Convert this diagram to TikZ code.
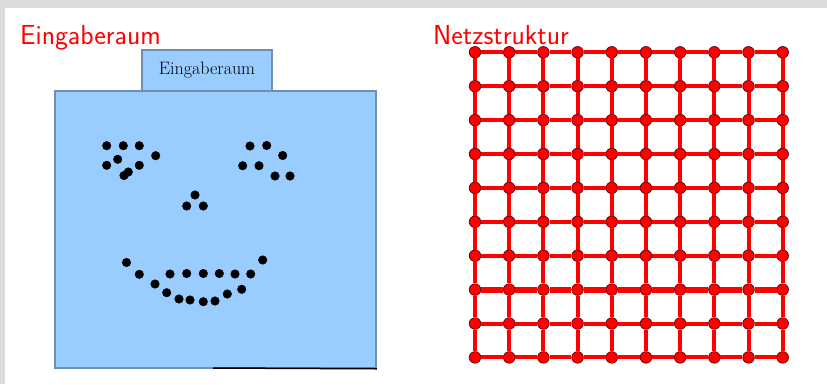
\documentclass[tikz,border=0pt]{standalone}
\usepackage{tikz}
\usetikzlibrary{positioning}
\definecolor{flaeche}{HTML}{99CCFF}
\definecolor{kante}{HTML}{6F8FB2}
\definecolor{rahmen}{HTML}{DCDCDC}
\definecolor{netzrot}{HTML}{FF0000}

\tikzset{
  raum/.style={draw=kante,fill=flaeche,line width=1.5pt,inner sep=0pt},
  titel/.style={anchor=base west,inner sep=0pt,text=netzrot,font=\sffamily\fontsize{27.5}{32}\selectfont},
  knoten/.style={circle,fill=netzrot,draw=red!45!black,line width=.8pt,minimum size=11.5pt,inner sep=0pt},
  netz/.style={netzrot,line width=4pt}
}

\begin{document}
\begin{tikzpicture}[x=1pt,y=-1pt]
\useasboundingbox (0,0) rectangle (827,384);
\fill[white] (0,0) rectangle (827,384);
\fill[rahmen] (0,0) rectangle (827,8); \fill[rahmen] (0,0) rectangle (5,384);
% Eingaberaum
\node[titel] (t1) at (20,44) {Eingaberaum};
\node[raum,minimum width=321pt,minimum height=277pt] (raum) at (215.5,229.5) {};
\node[raum,minimum width=130pt,minimum height=41pt,font=\fontsize{18}{20}\selectfont] (tab) at (207,70.5) {Eingaberaum};
\coordinate (strich) at (213,368);
\draw[line width=1.5pt] (strich)--(raum.south east);
\fill plot[only marks,mark=*,mark size=4.3pt] coordinates {(106.7,145.7) (123.3,145.7) (139.3,145.7) (155.7,155.7) (117.7,159.3) (106.7,165.3) (139.3,165.3) (124,175.5) (128.3,172)};
\fill plot[only marks,mark=*,mark size=4.3pt] coordinates {(250,146) (266.7,145.5) (282.7,155.5) (242.7,165.7) (259,165.7) (275,176) (290,176)};
\fill plot[only marks,mark=*,mark size=4.3pt] coordinates {(195,195) (186.7,206) (203.3,206)};
\fill plot[only marks,mark=*,mark size=4.3pt] coordinates {(126.5,262.5) (139.3,274.3) (155,284) (170,274) (186.7,273.5) (203.3,273.5) (219.3,273.5) (235,274) (250.7,274) (262.7,260) (166.7,292.7) (179,299) (190,300) (203.3,301.7) (215,301) (227.3,294) (241.7,289.3)};
% Netzstruktur
\node[titel] (t2) at (433,44) {Netzstruktur};
\foreach \i in {0,...,9}{
  \foreach \j in {0,...,9}{
    \node[knoten] (k-\i-\j) at ({475+34.19*\i},{52.3+33.9*\j}) {};
  }
}
\foreach \i [count=\n from 1] in {0,...,8}{
  \foreach \j in {0,...,9}{
    \draw[netz] (k-\i-\j)--(k-\n-\j);
    \draw[netz] (k-\j-\i)--(k-\j-\n);
  }
}
\foreach \i [count=\n from 1] in {0,...,8} \draw[netz,line width=6pt] (k-\i-7)--(k-\n-7);
\end{tikzpicture}
\end{document}
